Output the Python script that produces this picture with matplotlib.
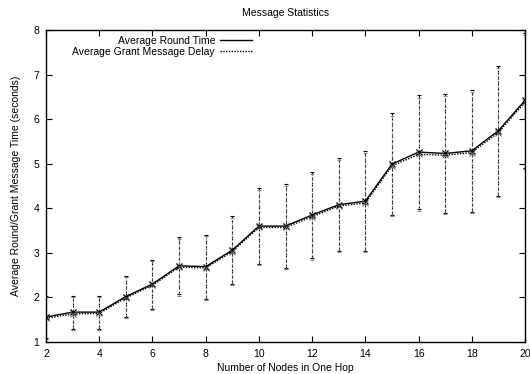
import matplotlib
matplotlib.use("Agg")
import matplotlib.pyplot as plt

plt.rcParams['font.family'] = ['Liberation Sans', 'DejaVu Sans']

nodes = [2, 3, 4, 5, 6, 7, 8, 9, 10, 11, 12, 13, 14, 15, 16, 17, 18, 19, 20]
round_time = [1.56, 1.67, 1.67, 2.02, 2.30, 2.71, 2.69, 3.06, 3.60, 3.60, 3.85,
              4.08, 4.16, 4.99, 5.26, 5.23, 5.29, 5.74, 6.42]
round_err = [0.48, 0.37, 0.37, 0.46, 0.55, 0.64, 0.72, 0.77, 0.85, 0.95, 0.97,
             1.04, 1.12, 1.14, 1.28, 1.33, 1.37, 1.46, 1.52]
grant_delay = [1.53, 1.63, 1.64, 1.99, 2.27, 2.68, 2.66, 3.03, 3.57, 3.57, 3.81,
               4.05, 4.12, 4.95, 5.21, 5.19, 5.25, 5.70, 6.38]
grant_err = [0.47, 0.37, 0.37, 0.46, 0.55, 0.64, 0.71, 0.76, 0.84, 0.94, 0.96,
             1.03, 1.11, 1.13, 1.27, 1.32, 1.36, 1.45, 1.51]

fig = plt.figure(figsize=(5.3, 3.74), dpi=100)
ax = fig.add_axes([0.0868, 0.0856, 0.9038, 0.8342])

# error bars first, lines on top
eb1 = ax.errorbar(nodes, round_time, yerr=round_err, fmt='none', ecolor='black',
                  elinewidth=0.8, capsize=1.5, capthick=0.8)
eb1[2][0].set_linestyle((0, (3, 2)))
eb2 = ax.errorbar(nodes, grant_delay, yerr=grant_err, fmt='none', ecolor='#888888',
                  elinewidth=0.8, capsize=1.5, capthick=0.8)
eb2[2][0].set_linestyle((0, (1, 1)))

ax.plot(nodes, round_time, color='black', linewidth=1.0, marker='x',
        markersize=4, markeredgewidth=0.9, label='Average Round Time')
ax.plot(nodes, grant_delay, color='black', linewidth=1.0, linestyle=(0, (1, 1)),
        marker='x', markersize=4, markeredgewidth=0.6, markeredgecolor='#555555',
        label='Average Grant Message Delay')

ax.set_xlim(2, 20)
ax.set_ylim(1, 8)
ax.set_xticks(range(2, 21, 2))
ax.set_yticks(range(1, 9))

ax.tick_params(direction='in', top=True, right=True, length=4, width=0.8,
               labelsize=7.5, pad=5)
for s in ax.spines.values():
    s.set_linewidth(1.0)

ax.set_title('Message Statistics', fontsize=7.5, pad=10)
ax.set_xlabel('Number of Nodes in One Hop', fontsize=7.5, labelpad=3)
ax.set_ylabel('Average Round/Grant Message Time (seconds)', fontsize=7.5, labelpad=9)

ax.legend(loc='upper right', bbox_to_anchor=(0.44, 0.997), frameon=False,
          markerfirst=False, fontsize=7.5, handlelength=3.0, handletextpad=0.5,
          borderpad=0, labelspacing=0.05, numpoints=1, markerscale=0)

fig.savefig('out.png', dpi=100)
